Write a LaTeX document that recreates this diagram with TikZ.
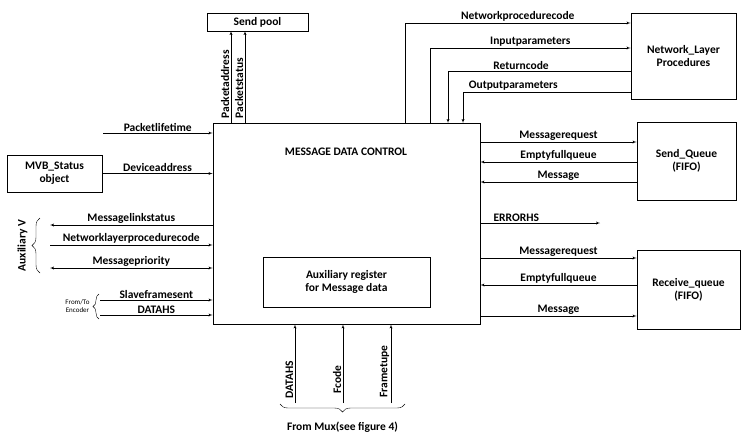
\documentclass[tikz,border=0pt]{standalone}
\usepackage{fontspec}
\setmainfont{Carlito}
\usetikzlibrary{positioning, arrows, decorations.pathreplacing}

\begin{document}
\begin{tikzpicture}[x=1pt, y=-1pt, font=\bfseries\fontsize{11.5}{13}\selectfont]
		% Styles
		\tikzstyle{block} = [rectangle, draw, thick, align=center, inner sep=0pt]
		\tikzstyle{line} = [draw, -latex']
		\tikzstyle{both} = [draw, latex'-latex']
		\tikzstyle{lbl} = [above, inner sep=1.5pt]
		\tikzstyle{vlbl} = [rotate=90, anchor=south, inner sep=1.5pt]
		\useasboundingbox (0,0) rectangle (751,444);

		% Nodes
		\node [block, minimum width=267, minimum height=201] (mdc) at (346.5,223.5) {};
		\node at (346,152) {MESSAGE DATA CONTROL};
		\node [block, minimum width=167, minimum height=50] (aux) at (346.5,282) {Auxiliary register\\for Message data};
		\node [block, minimum width=101, minimum height=18] (pool) at (257.5,22) {Send pool};
		\node [block, minimum width=105, minimum height=86] (nlp) at (683.5,56) {Network\_Layer\\Procedures};
		\node [block, minimum width=99, minimum height=78] (sq) at (686.5,161) {Send\_Queue\\(FIFO)};
		\node [block, minimum width=103, minimum height=79] (rq) at (688.5,289.5) {Receive\_queue\\(FIFO)};
		\node [block, minimum width=95, minimum height=37] (mvb) at (54.5,173.5) {MVB\_Status\\object};

		% Coordinates for free ends
		\coordinate (pl) at (103,133);
		\coordinate (aa) at (50,225);
		\coordinate (ab) at (50,245);
		\coordinate (ac) at (50,268);
		\coordinate (ea) at (100,300);
		\coordinate (eb) at (100,315);
		\coordinate (err) at (600,223);
		\coordinate (ba) at (295,403);
		\coordinate (bb) at (343,403);
		\coordinate (bc) at (391,403);

		% Connections
		\path [line] (231,123) -- node [vlbl, pos=0.42] {Packetaddress} (231,31);
		\path [line] (245,123) -- node [vlbl, pos=0.38] {Packetstatus} (245,31);
		\path [line] (405,123) |- node [lbl, pos=0.75] {Networkprocedurecode} (nlp.west |- 0,23);
		\path [line] (430,123) |- node [lbl, pos=0.75] {Inputparameters} (nlp.west |- 0,48);
		\path [line] (nlp.west |- 0,71) -| node [lbl, pos=0.3] {Returncode} (448,123);
		\path [line] (nlp.west |- 0,92) -| node [lbl, pos=0.35] {Outputparameters} (463,123);
		\path [line] (mdc.east |- 0,142) -- node [lbl] {Messagerequest} (sq.west |- 0,142);
		\path [line] (sq.west |- 0,162) -- node [lbl] {Emptyfullqueue} (mdc.east |- 0,162);
		\path [line] (sq.west |- 0,182) -- node [lbl] {Message} (mdc.east |- 0,182);
		\path [line] (mdc.east |- err) -- node [lbl, pos=0.3] {ERRORHS} (err);
		\path [line] (mdc.east |- 0,258) -- node [lbl] {Messagerequest} (rq.west |- 0,258);
		\path [line] (rq.west |- 0,285) -- node [lbl] {Emptyfullqueue} (mdc.east |- 0,285);
		\path [line] (mdc.east |- 0,316) -- node [lbl] {Message} (rq.west |- 0,316);
		\path [line] (pl) -- node [lbl] {Packetlifetime} (mdc.west |- pl);
		\path [line] (mvb.east) -- node [lbl] {Deviceaddress} (mdc.west |- mvb.east);
		\path [line] (mdc.west |- aa) -- node [lbl] {Messagelinkstatus} (aa);
		\path [line] (ab) -- node [lbl] {Networklayerprocedurecode} (mdc.west |- ab);
		\path [both] (ac) -- node [lbl] {Messagepriority} (mdc.west |- ac);
		\path [line] (ea) -- node [lbl] {Slaveframesent} (mdc.west |- ea);
		\path [line] (eb) -- node [lbl] {DATAHS} (mdc.west |- eb);
		\path [line] (ba) -- node [vlbl, pos=0.3] {DATAHS} (mdc.south -| ba);
		\path [line] (bb) -- node [vlbl, pos=0.3] {Fcode} (mdc.south -| bb);
		\path [line] (bc) -- node [vlbl, pos=0.4] {Frametupe} (mdc.south -| bc);

		% Braces
		\draw [decorate, decoration={brace, amplitude=8pt}] (40,273) -- (40,218)
			node [midway, left=9pt, rotate=90, anchor=south] {Auxiliary V};
		\draw [decorate, decoration={brace, amplitude=6pt}] (99,319) -- (99,294)
			node [midway, left=6pt, align=center, font=\mdseries\fontsize{7}{8}\selectfont] {From/To\\Encoder};
		\draw [decorate, decoration={brace, amplitude=8pt}] (405,404) -- (280,404)
			node [midway, below=14pt] {From Mux(see figure 4)};
\end{tikzpicture}
\end{document}
